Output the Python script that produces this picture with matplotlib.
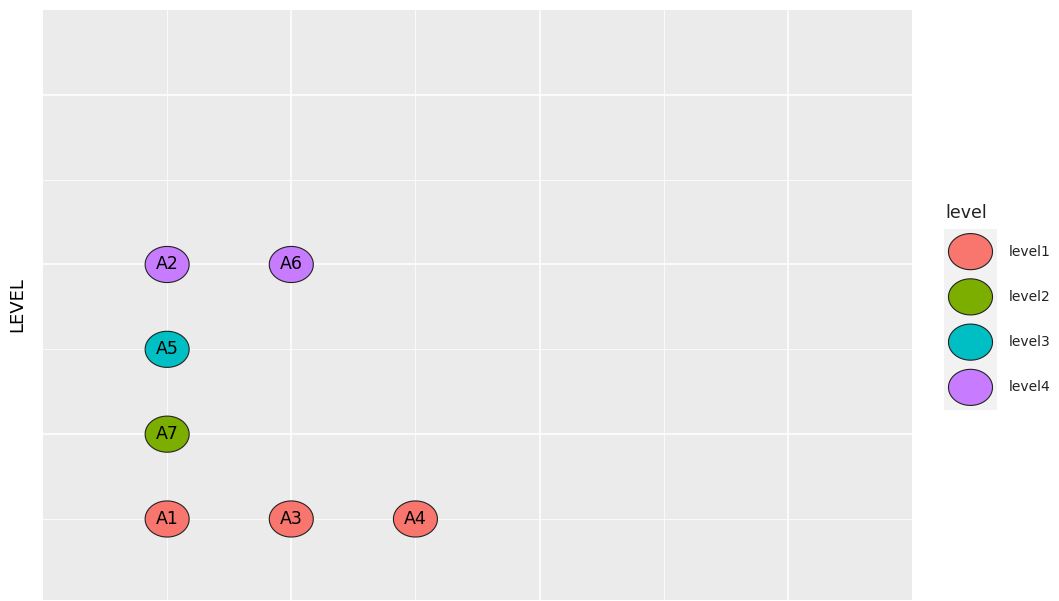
import numpy as np
import matplotlib
matplotlib.use("Agg")
import matplotlib.pyplot as plt
from matplotlib.path import Path

# datos
etiquetas = ['A1', 'A2', 'A3', 'A4', 'A5', 'A6', 'A7']
x_pos = [1, 1, 2, 3, 1, 2, 1]
nivel = [1, 4, 1, 1, 3, 4, 2]
niveles = ['level1', 'level2', 'level3', 'level4']
colores = ['#F8766D', '#7CAE00', '#00BFC4', '#C77CFF']

# marcador eliptico (los puntos se ven mas anchos que altos)
t = np.linspace(0, 2 * np.pi, 80)
elipse = Path(np.column_stack([np.cos(t), 0.82 * np.sin(t)]), closed=True)

fig = plt.figure(figsize=(10.59, 6.01), dpi=100)
ax = fig.add_axes([43 / 1059, 1 / 601, 869 / 1059, 590 / 601])
ax.set_facecolor('#EBEBEB')
for s in ax.spines.values():
    s.set_visible(False)

ax.set_xlim(0, 7)
ax.set_ylim(0.045, 7)
ax.set_xticks([2, 4, 6])
ax.set_xticks([1, 3, 5], minor=True)
ax.set_yticks([2, 4, 6])
ax.set_yticks([1, 3, 5], minor=True)
ax.grid(True, which='major', color='white', lw=1.1)
ax.grid(True, which='minor', color='white', lw=0.55)
ax.set_axisbelow(True)
ax.tick_params(which='both', length=0, labelbottom=False, labelleft=False)
ax.set_ylabel('LEVEL', fontsize=13, labelpad=12)

c = [colores[n - 1] for n in nivel]
ax.scatter(x_pos, nivel, s=31.7 ** 2, marker=elipse, c=c,
           edgecolors='#222222', linewidths=0.8, zorder=3)
for xx, yy, et in zip(x_pos, nivel, etiquetas):
    ax.text(xx, yy, et, ha='center', va='center', fontsize=12.5, zorder=4)

# leyenda hecha a mano
lax = fig.add_axes([944 / 1059, (601 - 410) / 601, 53 / 1059, 181 / 601])
lax.set_facecolor('#F2F2F2')
for s in lax.spines.values():
    s.set_visible(False)
lax.set_xticks([])
lax.set_yticks([])
lax.set_xlim(0, 1)
lax.set_ylim(len(niveles) - 0.5, -0.5)
yk = np.arange(len(niveles))
lax.scatter([0.5] * len(niveles), yk, s=31.7 ** 2, marker=elipse, c=colores,
            edgecolors='#222222', linewidths=0.8, clip_on=False)
for i, nv in enumerate(niveles):
    lax.text(1.22, i, nv, ha='left', va='center', fontsize=10, color='#222222')
fig.text(945 / 1059, 1 - 213 / 601, 'level', ha='left', va='center',
         fontsize=12.5, color='#222222')

plt.savefig('out.png', dpi=100)
